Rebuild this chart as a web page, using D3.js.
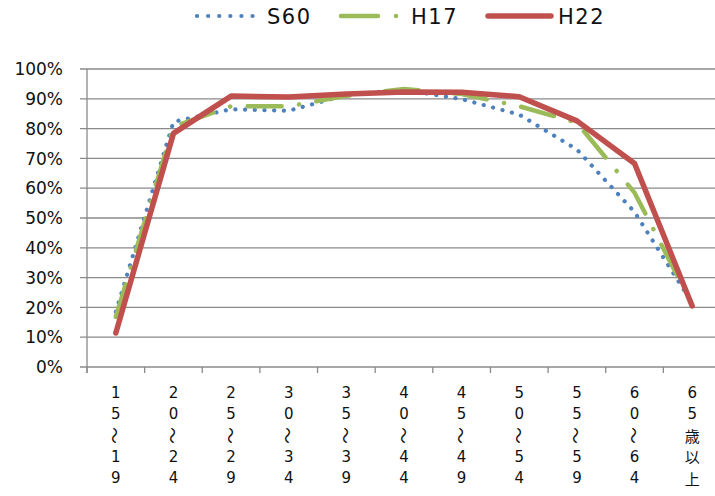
<!DOCTYPE html>
<html>
<head>
<meta charset="utf-8">
<script src="https://cdn.jsdelivr.net/npm/d3@7"></script>
<style>
  body { margin: 0; background: #fff; }
  svg { display: block; }
</style>
</head>
<body>
<svg id="chart"></svg>
<script>
// age groups, each label is written top to bottom one char per row
var ageGroups = ["15～19", "20～24", "25～29", "30～34", "35～39", "40～44", "45～49", "50～54", "55～59", "60～64", "65歳以上"]

// percentages
var s60 = [18.5, 82.3, 86.5, 86, 91.3, 93, 89.9, 84.7, 73, 52, 21.5]
var h17 = [16.8, 80.6, 87.5, 87.5, 91, 93.3, 91.6, 87.5, 82, 58.5, 21]
var h22 = [11.4, 78.4, 90.9, 90.6, 91.6, 92.3, 92.2, 90.7, 82.6, 68.3, 20.5]

var yTicks = [0, 10, 20, 30, 40, 50, 60, 70, 80, 90, 100]

var seriesNames = ["S60", "H17", "H22"]

var dimensions = {
    width: 715,
    height: 496,
    margin: {
        top: 69,
        bottom: 129,
        right: -6,
        left: 87
    }
}

var svg = d3.select("#chart")
    .attr("width", dimensions.width)
    .attr("height", dimensions.height)

var xScale = d3.scaleBand()
    .domain(ageGroups)
    .range([dimensions.margin.left, dimensions.width - dimensions.margin.right])
    .padding(0)

var yScale = d3.scaleLinear()
    .domain([0, 100])
    .range([dimensions.height - dimensions.margin.bottom, dimensions.margin.top])

var gridColor = "#8a8a8a"

// gridlines (they stick out left of the axis as ticks)
svg.append("g")
    .selectAll("line")
    .data(yTicks)
    .join("line")
    .attr("x1", dimensions.margin.left - 7)
    .attr("x2", dimensions.width)
    .attr("y1", d => yScale(d))
    .attr("y2", d => yScale(d))
    .attr("stroke", gridColor)
    .attr("stroke-width", 1.3)

// y axis line
svg.append("line")
    .attr("x1", dimensions.margin.left)
    .attr("x2", dimensions.margin.left)
    .attr("y1", yScale(100))
    .attr("y2", yScale(0) + 6)
    .attr("stroke", gridColor)
    .attr("stroke-width", 1.3)

// x ticks on the category boundaries
svg.append("g")
    .selectAll("line")
    .data(ageGroups)
    .join("line")
    .attr("x1", d => xScale(d))
    .attr("x2", d => xScale(d))
    .attr("y1", yScale(0))
    .attr("y2", yScale(0) + 6)
    .attr("stroke", gridColor)
    .attr("stroke-width", 1.3)

// y labels
svg.append("g")
    .selectAll("text")
    .data(yTicks)
    .join("text")
    .attr("x", 63)
    .attr("y", d => yScale(d))
    .attr("dy", "0.36em")
    .attr("text-anchor", "end")
    .style("font-family", "DejaVu Sans")
    .style("font-size", "17px")
    .style("fill", "#111")
    .text(d => d + "%")

// x labels, vertical, one character per row
var xLabels = svg.append("g")
ageGroups.forEach(function(label){
    var cx = xScale(label) + xScale.bandwidth() / 2
    Array.from(label).forEach(function(ch, i){
        var cy = 393 + i * 21.3
        var t = xLabels.append("text")
            .attr("x", cx)
            .attr("y", cy)
            .attr("text-anchor", "middle")
            .attr("dominant-baseline", "central")
            .style("font-size", "15px")
            .style("fill", "#111")
            .text(ch)
        if (ch == "～") {
            // wave turned upright like in vertical writing
            t.attr("transform", "rotate(90," + cx + "," + cy + ")")
                .style("font-family", "Noto Sans CJK JP")
                .style("font-size", "17px")
        } else if (/[0-9]/.test(ch)) {
            t.style("font-family", "DejaVu Sans")
        } else {
            t.style("font-family", "Noto Sans CJK JP")
                .style("font-size", "15px")
        }
    })
})

// line styles per series
var styles = {
    S60: { color: "#4F81BD", width: 4.2, dash: "0.1 9.6", cap: "round" },
    H17: { color: "#9BBB59", width: 4.5, dash: "34 17.5 0.1 17.5", cap: "round" },
    H22: { color: "#C0504D", width: 5.5, dash: null, cap: "round" }
}

var lineGen = d3.line()
    .x((d, i) => xScale(ageGroups[i]) + xScale.bandwidth() / 2)
    .y(d => yScale(d))

var seriesData = [s60, h17, h22]
seriesData.forEach(function(values, k){
    var st = styles[seriesNames[k]]
    svg.append("path")
        .datum(values)
        .attr("d", lineGen)
        .attr("fill", "none")
        .attr("stroke", st.color)
        .attr("stroke-width", st.width)
        .attr("stroke-linecap", st.cap)
        .attr("stroke-linejoin", "round")
        .attr("stroke-dasharray", st.dash)
})

// legend across the top
var legendX = [197, 341, 488]
var legend = svg.append("g")
seriesNames.forEach(function(name, k){
    var st = styles[name]
    var lx = legendX[k]
    var sampleLen = name == "H22" ? 63 : 57
    legend.append("line")
        .attr("x1", lx)
        .attr("x2", lx + sampleLen)
        .attr("y1", 16)
        .attr("y2", 16)
        .attr("stroke", st.color)
        .attr("stroke-width", st.width)
        .attr("stroke-linecap", st.cap)
        .attr("stroke-dasharray", name == "S60" ? "0.1 11" : (name == "H17" ? "37 18 0.1 40" : null))
    legend.append("text")
        .attr("x", lx + 70)
        .attr("y", 16)
        .attr("dy", "0.36em")
        .style("font-family", "DejaVu Sans")
        .style("font-size", "21px")
        .style("letter-spacing", "1.5px")
        .style("fill", "#111")
        .text(name)
})
</script>
</body>
</html>
